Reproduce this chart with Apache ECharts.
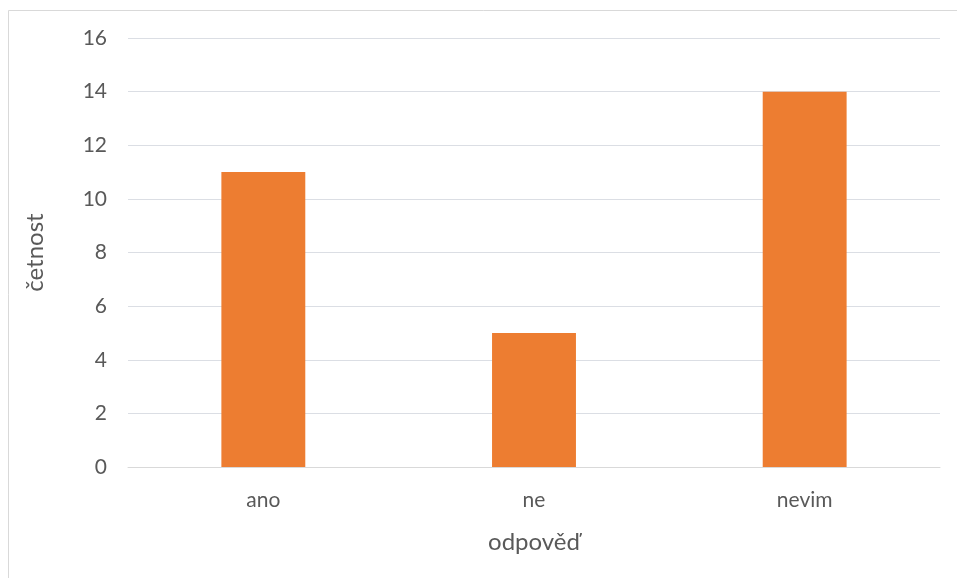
<!DOCTYPE html>
<html><head><meta charset="utf-8">
<script src="https://cdn.jsdelivr.net/npm/echarts@6/dist/echarts.min.js"></script>
<style>html,body{margin:0;padding:0;background:#fff}#c{width:957px;height:578px}</style>
</head><body><div id="c"></div>
<script>
const categories = ["ano", "ne", "nevim"];
const values = [11, 5, 14];
const xTitle = "odpověď";
const yTitle = "četnost";
const font = "Lato, 'Open Sans', sans-serif";
const chart = echarts.init(document.getElementById('c'), null, {renderer:'canvas'});
chart.setOption({
  animation:false,
  backgroundColor:'#fff',
  graphic:[{type:'rect',shape:{x:8.5,y:10.5,width:1000,height:1000},style:{fill:'none',stroke:'#d9d9d9',lineWidth:1},silent:true}],
  grid:{left:128,right:17,top:38,bottom:111,containLabel:false},
  xAxis:{type:'category',data:categories,
    name:xTitle,nameLocation:'middle',nameGap:63,
    nameTextStyle:{fontFamily:font,fontSize:24,color:'#595959'},
    axisLine:{show:true,lineStyle:{color:'#d9d9d9',width:1}},axisTick:{show:false},
    axisLabel:{fontFamily:font,fontSize:21,color:'#595959',margin:23}},
  yAxis:{type:'value',min:0,max:16,interval:2,
    name:yTitle,nameLocation:'middle',nameGap:81,nameRotate:90,
    nameTextStyle:{fontFamily:font,fontSize:24,color:'#595959'},
    axisLine:{show:false},axisTick:{show:false},
    axisLabel:{fontFamily:font,fontSize:21,color:'#595959',margin:21}},
  series:[{type:'bar',data:values,barWidth:'31%',itemStyle:{color:'#ed7d31'}}]
});
</script></body></html>
